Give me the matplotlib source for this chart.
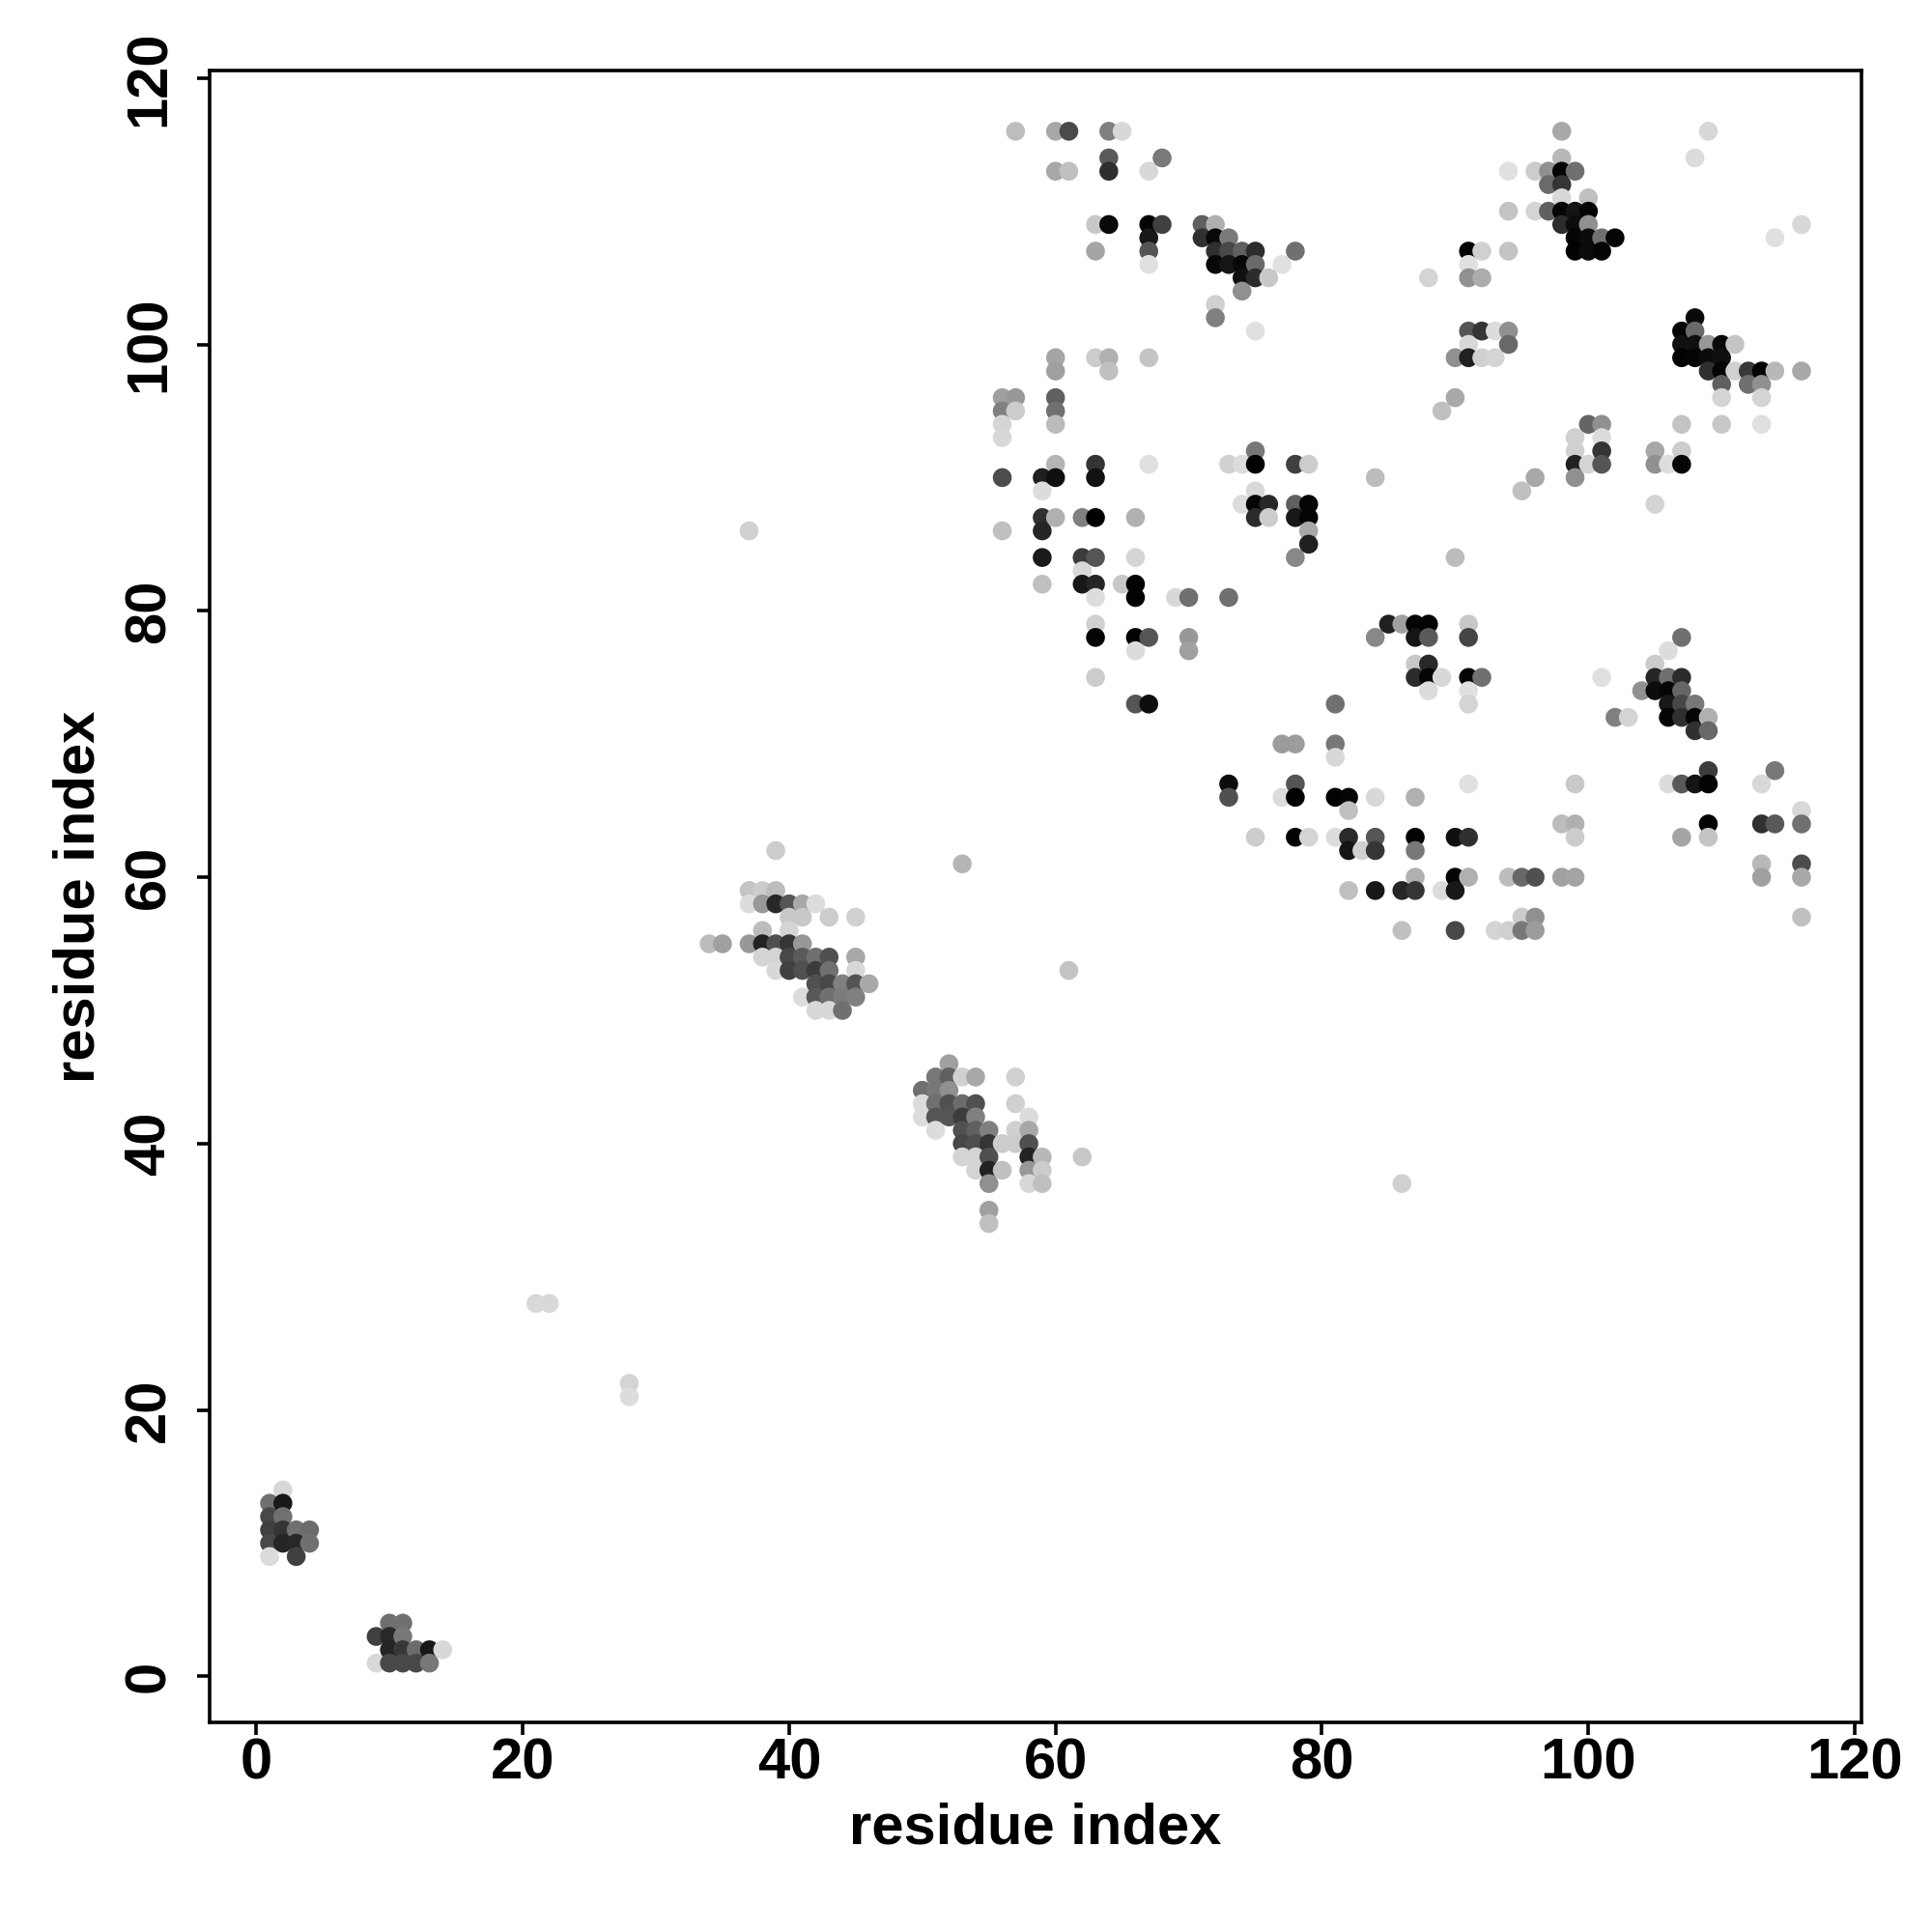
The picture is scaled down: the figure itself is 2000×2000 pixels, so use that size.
import matplotlib
matplotlib.use("Agg")
import matplotlib.pyplot as plt
import numpy as np

plt.rcParams['font.family'] = ['Liberation Sans', 'DejaVu Sans']
plt.rcParams['font.weight'] = 'bold'

row_index = [116, 114, 113, 112, 111, 110, 109, 108, 107, 106, 105, 104, 103, 102, 101, 100,
             99, 98, 97, 96, 95, 94, 93, 92, 91, 90, 89, 88, 87, 86, 85, 84, 83, 82, 81,
             79, 78, 77, 76, 75, 74, 73, 72, 71, 70, 69, 68, 67, 66, 65, 64, 63, 62, 61, 60,
             59, 58, 57, 56, 55, 54, 53, 52, 51, 50, 46, 45, 44, 43, 42, 41, 40, 39, 38, 37,
             35, 34, 28, 22, 21, 14, 13, 12, 11, 10, 9, 4, 3, 2, 1]

partner_index = [
    [57, 60, 61, 64, 65, 98, 109], [64, 68, 98, 108], [60, 61, 64, 67, 94, 96, 97, 98, 99], [97, 98],
    [98, 100], [94, 96, 97, 98, 99, 100], [63, 64, 67, 68, 71, 72, 98, 99, 100, 116],
    [67, 71, 72, 73, 99, 100, 101, 102, 114], [63, 67, 72, 73, 74, 75, 78, 91, 92, 94, 99, 100, 101],
    [67, 72, 73, 74, 75, 77, 91], [74, 75, 76, 88, 91, 92], [74], [72], [72, 108],
    [75, 91, 92, 93, 94, 107, 108], [91, 94, 107, 108, 109, 110, 111],
    [60, 63, 64, 67, 90, 91, 92, 93, 107, 108, 109, 110], [60, 64, 109, 110, 111, 112, 113, 114, 116],
    [110, 112, 113], [56, 57, 60, 90, 110, 113], [56, 57, 60, 89], [56, 60, 100, 101, 107, 110, 113],
    [56, 99, 101], [75, 99, 101, 105, 107],
    [60, 63, 67, 73, 74, 75, 78, 79, 99, 100, 101, 105, 106, 107], [56, 59, 60, 63, 84, 96, 99],
    [59, 75, 95], [74, 75, 76, 78, 79, 105], [59, 60, 62, 63, 66, 75, 76, 78, 79], [37, 56, 59, 79], [79],
    [59, 62, 63, 66, 78, 90], [62], [59, 62, 63, 65, 66], [63, 66, 69, 70, 73],
    [63, 85, 86, 87, 88, 91], [63, 66, 67, 70, 84, 87, 88, 91, 107], [66, 70, 106], [87, 88, 105],
    [63, 87, 88, 89, 91, 92, 101, 105, 106, 107], [88, 91, 104, 105, 106, 107],
    [66, 67, 81, 91, 106, 107, 108], [102, 103, 106, 107, 108, 109], [108, 109], [77, 78, 81], [81],
    [109, 114], [73, 78, 91, 99, 106, 107, 108, 109, 113], [73, 77, 78, 81, 82, 84, 87], [82, 116],
    [98, 99, 109, 113, 114, 116], [75, 78, 79, 81, 82, 84, 87, 90, 91, 99, 107, 109],
    [39, 82, 83, 84, 87], [53, 113, 116], [87, 90, 91, 94, 95, 96, 98, 99, 113, 116],
    [37, 38, 39, 82, 84, 86, 87, 89, 90], [37, 38, 39, 40, 41, 42], [40, 41, 43, 45, 95, 96, 116],
    [38, 40, 86, 90, 93, 94, 95, 96], [34, 35, 37, 38, 39, 40, 41], [38, 39, 40, 41, 42, 43, 45],
    [39, 40, 41, 42, 43, 45, 61], [42, 43, 44, 45, 46], [41, 42, 43, 44, 45], [42, 43, 44], [52],
    [51, 52, 53, 54, 57], [50, 51, 52], [50, 51, 52, 53, 54, 57], [50, 51, 52, 53, 54, 58],
    [51, 53, 54, 55, 57, 58], [53, 54, 55, 56, 57, 58], [53, 54, 55, 58, 59, 62], [54, 55, 56, 58, 59],
    [55, 58, 59, 86], [55], [55], [21, 22], [28], [28], [2], [1, 2], [1, 2], [1, 2, 3, 4], [1, 2, 3, 4],
    [1, 3], [10, 11], [9, 10, 11], [10, 11, 12, 13, 14], [9, 10, 11, 12, 13]]

shade = [
    [0xbd, 0xa8, 0x4a, 0x80, 0xd8, 0xa8, 0xd8], [0x5a, 0x7a, 0xb8, 0xdc], [0xa8, 0xc0, 0x2e, 0xd8, 0xe0, 0xcc, 0x90, 0x05, 0x70], [0x6a, 0x35],
    [0xd8, 0xc0], [0xc4, 0xd4, 0x60, 0x05, 0x15, 0x05], [0xc8, 0x08, 0x05, 0x40, 0x60, 0xb0, 0x2c, 0x0c, 0x90, 0xd8],
    [0x18, 0x30, 0x08, 0x7a, 0x05, 0x0c, 0x70, 0x05, 0xe0], [0xa5, 0x55, 0x30, 0x48, 0x60, 0x2c, 0x70, 0x05, 0xd0, 0xc4, 0x02, 0x0c, 0x05],
    [0xe0, 0x08, 0x15, 0x08, 0x6a, 0xe0, 0xe0], [0x10, 0x2c, 0xc8, 0xd4, 0x90, 0xac], [0x90], [0xd0], [0x80, 0x0a],
    [0xe0, 0x55, 0x35, 0xdc, 0x90, 0x05, 0x6a], [0xd8, 0x68, 0x10, 0x10, 0x98, 0x08, 0xc4],
    [0xa5, 0xcc, 0xb0, 0xc4, 0x90, 0x20, 0xd0, 0xd4, 0x02, 0x05, 0x0c, 0x10], [0xa0, 0xc0, 0x30, 0x05, 0xd0, 0x38, 0x05, 0xb8, 0xa8],
    [0x60, 0x70, 0x90], [0xa0, 0x98, 0x60, 0xa8, 0xd4, 0xd4], [0x80, 0xcc, 0x70, 0xc0], [0xd5, 0xbc, 0x65, 0x90, 0xc4, 0xc8, 0xe0],
    [0xd8, 0xd0, 0xdc], [0x78, 0xd0, 0x35, 0xa8, 0xcc],
    [0xb5, 0x35, 0xe0, 0xd0, 0xdc, 0x02, 0x40, 0xcc, 0x22, 0xd4, 0x55, 0x90, 0xdc, 0x05], [0x4c, 0x20, 0x10, 0x12, 0xbc, 0xa8, 0x90],
    [0xdc, 0xd8, 0xc0], [0xdc, 0x05, 0x28, 0x60, 0x05, 0xd4], [0x30, 0xb0, 0x80, 0x00, 0xb0, 0x2c, 0xcc, 0x18, 0x05], [0xd0, 0xc0, 0x25, 0xa8], [0x20],
    [0x1a, 0x3c, 0x55, 0xd5, 0x88, 0xbc], [0xd8], [0xc0, 0x18, 0x25, 0xc8, 0x02], [0xdc, 0x02, 0xd8, 0x70, 0x70],
    [0xd0, 0x20, 0xa0, 0x05, 0x05, 0xc8], [0x05, 0x02, 0x55, 0x98, 0x88, 0x15, 0x5a, 0x45, 0x70], [0xdc, 0xa0, 0xdc], [0xc8, 0x28, 0xcc],
    [0xcc, 0x2c, 0x05, 0xd8, 0x05, 0x70, 0xe0, 0x25, 0x70, 0x2c], [0xdc, 0xe0, 0x90, 0x0c, 0x05, 0x65],
    [0x55, 0x0e, 0x70, 0xd4, 0x18, 0x48, 0x78], [0x80, 0xd4, 0x05, 0x30, 0x05, 0xb0], [0x30, 0x68], [0x9c, 0x9c, 0x78], [0xd8],
    [0x3c, 0x78], [0x0c, 0x55, 0xe0, 0xc8, 0xdc, 0x58, 0x15, 0x02, 0xd8], [0x50, 0xdc, 0x02, 0x02, 0x05, 0xd8, 0xb0], [0xc0, 0xd8],
    [0xbc, 0xb0, 0x02, 0x30, 0x58, 0x70], [0xcc, 0x02, 0xd4, 0xdc, 0x2a, 0x55, 0x02, 0x10, 0x30, 0xcc, 0xa5, 0xc4],
    [0xcc, 0x15, 0xd0, 0x35, 0x78], [0xb5, 0xb8, 0x4c], [0xb0, 0x05, 0xb0, 0xbc, 0x68, 0x50, 0xa0, 0xa4, 0xa0, 0xa8],
    [0xc4, 0xcc, 0xbc, 0xc0, 0x18, 0x25, 0x35, 0xdc, 0x18], [0xdc, 0x98, 0x28, 0x55, 0xa8, 0xdc], [0xc8, 0xc8, 0xcc, 0xd0, 0xcc, 0x90, 0xc0],
    [0xbc, 0xd4, 0xc0, 0x48, 0xd4, 0xd0, 0x78, 0x9c], [0xbc, 0xa0, 0x98, 0x22, 0x50, 0x35, 0x98], [0xd4, 0xd4, 0x48, 0x5a, 0x70, 0x50, 0xa8],
    [0xd8, 0x40, 0x50, 0x3c, 0x70, 0xd8, 0xc4], [0x50, 0x48, 0x80, 0x55, 0xa8], [0xdc, 0x58, 0x70, 0x7c, 0x80], [0xd8, 0xd8, 0x70], [0xa0],
    [0x78, 0x60, 0xd0, 0xa8, 0xd0], [0x70, 0x78, 0x90], [0xdc, 0x70, 0x50, 0x6c, 0x50, 0xd0], [0xdc, 0x55, 0x55, 0x3c, 0x80, 0xdc],
    [0xdc, 0x50, 0x60, 0x80, 0xd0, 0xa8], [0x48, 0x50, 0x35, 0xcc, 0xcc, 0x50], [0xd4, 0xd4, 0x50, 0x22, 0xb8, 0xc8], [0xd4, 0x22, 0xc0, 0x98, 0xcc],
    [0x90, 0xd8, 0xc0, 0xd0], [0xa0], [0xc0], [0xd8, 0xd8], [0xd4], [0xdc], [0xd8], [0x70, 0x18], [0x48, 0x70], [0x40, 0x35, 0x70, 0x6c], [0x48, 0x25, 0x28, 0x70],
    [0xdc, 0x40], [0x70, 0x70], [0x40, 0x28, 0x78], [0x25, 0x38, 0x6c, 0x18, 0xd8], [0xd8, 0x48, 0x48, 0x48, 0x78]]

tick_values = [0, 20, 40, 60, 80, 100, 120]
axis_label = "residue index"

xs = np.concatenate([np.array(p, dtype=float) for p in partner_index])
ys = np.concatenate([np.full(len(p), float(r)) for p, r in zip(partner_index, row_index)])
cs = np.concatenate([np.array(s, dtype=float) for s in shade])
order = np.lexsort((-ys, xs))

fig = plt.figure(figsize=(20, 20), dpi=100)
ax = fig.add_axes([217 / 2000, 1 - 1783 / 2000, 1710 / 2000, 1710 / 2000])
ax.scatter(xs[order], ys[order], c=cs[order], cmap='gray', vmin=0, vmax=255,
           s=198, linewidths=0, zorder=3)
ax.set_xlim(-3.5, 120.5)
ax.set_ylim(-3.45, 120.56)
ax.set_xticks(tick_values)
ax.set_yticks(tick_values)
ax.tick_params(axis='x', length=9.5, width=2.6, labelsize=43, pad=1.5)
ax.tick_params(axis='y', length=9.5, width=2.6, labelsize=43, pad=15.5)
for t in ax.get_yticklabels():
    t.set_rotation(90)
    t.set_verticalalignment('center')
for s in ax.spines.values():
    s.set_linewidth(2.6)
ax.set_xlabel(axis_label, fontsize=43, fontweight='bold', labelpad=9)
ax.set_ylabel(axis_label, fontsize=43, fontweight='bold', labelpad=13)
fig.savefig("out.png", dpi=100, facecolor='white')
